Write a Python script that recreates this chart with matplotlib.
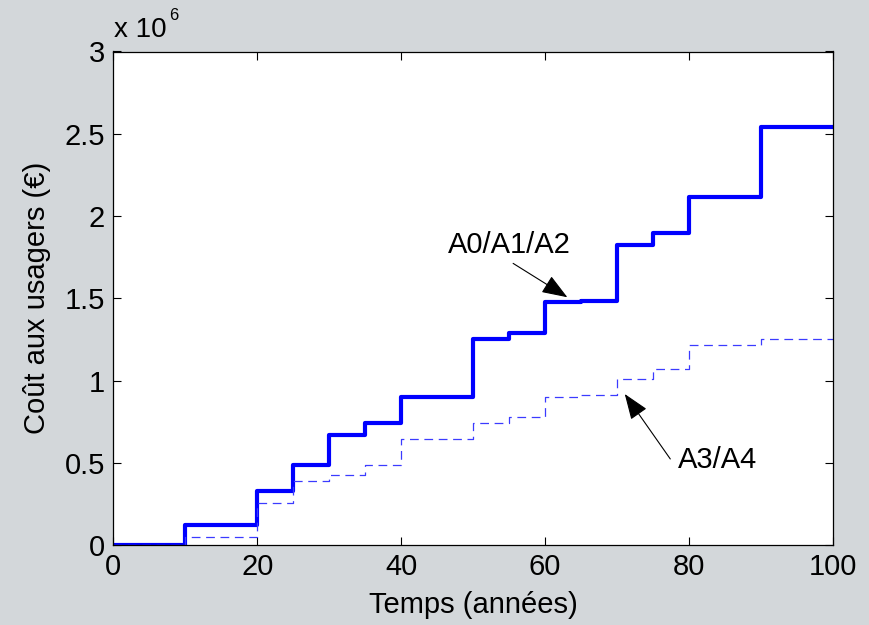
import matplotlib
matplotlib.use("Agg")
import matplotlib.pyplot as plt
from matplotlib.ticker import FuncFormatter

plt.rcParams['font.family'] = ['Liberation Sans', 'DejaVu Sans']

# Step change times (years) and cumulative user cost (euros)
years = [0, 10, 20, 25, 30, 35, 40, 50, 55, 60, 65, 70, 75, 80, 90, 100]
cost_a0_a1_a2 = [0, 120000, 328000, 488000, 669000, 742000, 898000, 1252000,
                 1287000, 1475000, 1483000, 1824000, 1899000, 2116000, 2539000, 2539000]
cost_a3_a4 = [0, 49000, 255000, 389000, 427000, 488000, 642000, 742000,
              778000, 902000, 912000, 1009000, 1072000, 1216000, 1252000, 1252000]

x_ticks = [0, 20, 40, 60, 80, 100]
y_ticks = [0, 500000, 1000000, 1500000, 2000000, 2500000, 3000000]

FS = 21
bg = '#d3d7da'
fig = plt.figure(figsize=(8.7, 6.25), dpi=100, facecolor=bg)
ax = fig.add_axes([0.1302, 0.128, 0.8272, 0.7896])
ax.set_facecolor('white')

ax.step(years, cost_a0_a1_a2, where='post', color='#0000ff', lw=3.0)
ax.step(years, cost_a3_a4, where='post', color='#3b3bff', lw=0.9,
        linestyle=(0, (7, 4.5)))

ax.set_xlim(0, 100)
ax.set_ylim(0, 3000000)
ax.set_xticks(x_ticks)
ax.set_yticks(y_ticks)
ax.yaxis.set_major_formatter(FuncFormatter(lambda v, p: f"{v/1e6:g}"))
ax.tick_params(direction='in', length=6, width=0.8, top=True, right=True,
               labelsize=FS, pad=6)
for s in ax.spines.values():
    s.set_linewidth(0.9)

ax.set_xlabel('Temps (années)', fontsize=FS, labelpad=7)
ax.set_ylabel('Coût aux usagers (€)', fontsize=FS, labelpad=10)

fig.text(0.131, 1 - 37 / 625, 'x 10', fontsize=20, ha='left', va='baseline')
fig.text(0.194, 1 - 20 / 625, '6', fontsize=12, ha='left', va='baseline')

ax.text(55.1, 1821000, 'A0/A1/A2', fontsize=FS, ha='center', va='center')
ax.annotate('', xy=(63.1, 1506000), xytext=(55.56, 1712000),
            arrowprops=dict(arrowstyle='-|>,head_length=0.8,head_width=0.3',
                            color='black', lw=0.8, shrinkA=0, shrinkB=0,
                            mutation_scale=20))
ax.text(83.9, 517000, 'A3/A4', fontsize=FS, ha='center', va='center')
ax.annotate('', xy=(71.07, 918000), xytext=(77.4, 523000),
            arrowprops=dict(arrowstyle='-|>,head_length=0.8,head_width=0.3',
                            color='black', lw=0.8, shrinkA=0, shrinkB=0,
                            mutation_scale=20))

fig.savefig('out.png', dpi=100, facecolor=bg)
